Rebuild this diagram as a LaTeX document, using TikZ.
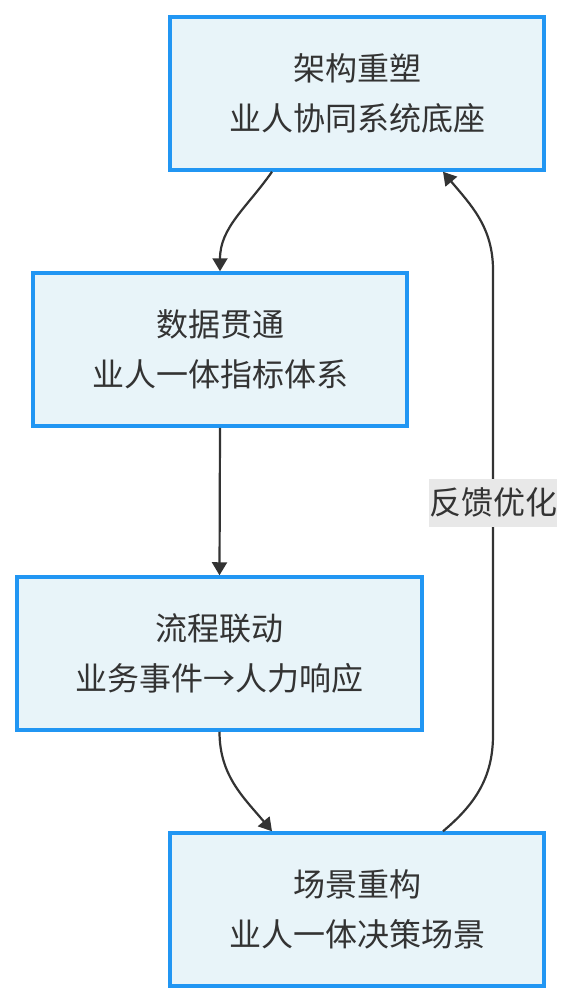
\documentclass[tikz,border=0pt]{standalone}
\usepackage{fontspec}
\newfontfamily\cjk{Noto Sans CJK SC}
\usepackage{tikz}
\usetikzlibrary{arrows.meta}
\definecolor{my_boxfill}{HTML}{E8F4F9}
\definecolor{my_boxline}{HTML}{2196F3}
\definecolor{my_darkgray}{HTML}{333333}
\definecolor{my_labelbg}{HTML}{E8E8E8}

\begin{document}
\begin{tikzpicture}[
    x=1pt, y=-1pt,
    stagebox/.style={draw=my_boxline, fill=my_boxfill, line width=3.5pt,
        minimum width=374pt, minimum height=153pt, align=center,
        font=\cjk\fontsize{32}{50}\selectfont, text=my_darkgray},
    flow/.style={draw=my_darkgray, line width=2.2pt,
        -{Triangle[length=13pt, width=15pt]}},
    fblabel/.style={fill=my_labelbg, font=\cjk\fontsize{32}{36}\selectfont,
        text=my_darkgray, inner sep=0pt, minimum height=48pt, minimum width=128pt}
]
\useasboundingbox (0,0) rectangle (574,1004);

% ================================================================
% Stufen
% ================================================================
\node[stagebox] (jiagou)    at (357, 93.5)  {架构重塑\\业人协同系统底座};
\node[stagebox] (shuju)     at (220, 349.5) {数据贯通\\业人一体指标体系};
\node[stagebox, minimum width=405pt] (liucheng) at (219.5, 653.5)
    {流程联动\\业务事件→人力响应};
\node[stagebox] (changjing) at (357, 909.5) {场景重构\\业人一体决策场景};

% ================================================================
% Verbindungen
% ================================================================
\draw[flow] ([xshift=-85pt]jiagou.south) to[out=-125, in=90] (shuju.north);
\draw[flow] (shuju.south) -- (liucheng.north);
\draw[flow] (liucheng.south) to[out=-90, in=130] ([xshift=-85pt]changjing.north);

% Rueckkopplung (rechts hoch)
\coordinate (fb_low)  at (493, 735);
\coordinate (fb_high) at (493, 270);
\draw[flow] ([xshift=86pt]changjing.north) to[out=40, in=-90] (fb_low)
    -- node[fblabel] (lbl_fb) {反馈优化} (fb_high)
    to[out=90, in=-50] ([xshift=86pt]jiagou.south);

\end{tikzpicture}
\end{document}
